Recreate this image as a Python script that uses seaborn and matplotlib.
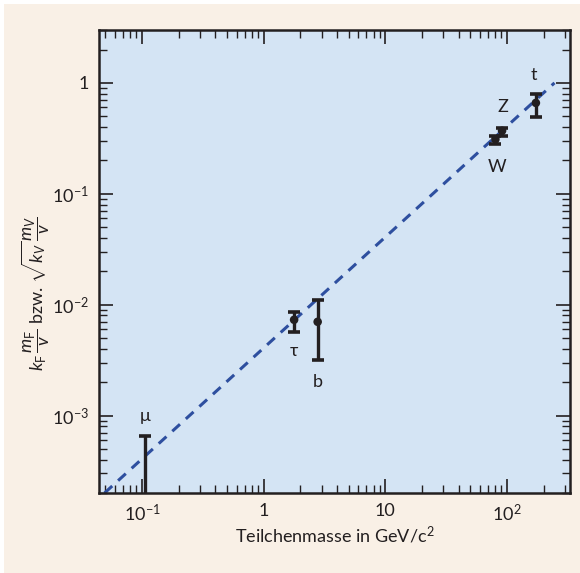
import numpy as np
import pandas as pd
import matplotlib
matplotlib.use('Agg')
import matplotlib.pyplot as plt
import matplotlib.ticker as mticker
from matplotlib.patches import Rectangle
import seaborn as sns

# Werte
particles = ['τ', 'b', 'W', 'Z', 't']
mass = [1.78, 2.78, 80.4, 91.2, 173.0]
coupling = [7.3e-3, 7.0e-3, 0.31, 0.37, 0.66]
err_hi = [8.6e-3, 1.09e-2, 0.33, 0.39, 0.80]
err_lo = [5.7e-3, 3.2e-3, 0.28, 0.33, 0.49]

mu_mass = 0.1057
mu_hi = 6.5e-4
mu_lo = 1.0e-4

line_mass = [0.0492, 246.0]
line_y = [2.0e-4, 1.0]

xticks = [0.1, 1, 10, 100]
xticklabels = ['10$^{-1}$', '1', '10', '10$^{2}$']
yticks = [1e-3, 1e-2, 1e-1, 1]
yticklabels = ['10$^{-3}$', '10$^{-2}$', '10$^{-1}$', '1']

df = pd.DataFrame({'mass': mass, 'y': coupling, 'name': particles})
df_line = pd.DataFrame({'mass': line_mass, 'y': line_y})

sns.set_style('ticks')
plt.rcParams['font.family'] = ['Lato', 'DejaVu Sans']
plt.rcParams['mathtext.fontset'] = 'custom'
plt.rcParams['mathtext.rm'] = 'Lato'
plt.rcParams['mathtext.it'] = 'Lato:italic'
plt.rcParams['mathtext.bf'] = 'Lato:bold'

ink = '#231f20'
fig = plt.figure(figsize=(5.8, 5.73), dpi=100, facecolor='white')
fig.patches.append(Rectangle((4 / 580, 0), 1, 1 - 4 / 573, transform=fig.transFigure,
                             facecolor='#f9f0e6', edgecolor='none', zorder=-10))
ax = fig.add_axes([99 / 580, 80 / 573, 471 / 580, 463 / 573])
ax.set_facecolor('#d4e4f4')

ax.set_xscale('log')
ax.set_yscale('log')

sns.lineplot(data=df_line, x='mass', y='y', ax=ax, color='#2e4f9f', lw=2.2,
             linestyle=(0, (3.4, 2.6)), zorder=2)

# Fehlerbalken
ax.errorbar(mass, coupling,
            yerr=[np.array(coupling) - np.array(err_lo), np.array(err_hi) - np.array(coupling)],
            fmt='none', ecolor=ink, elinewidth=2.4, capsize=4, capthick=2.6, zorder=3)
ax.errorbar([mu_mass], [mu_hi], yerr=[[mu_hi - mu_lo], [0]],
            fmt='none', ecolor=ink, elinewidth=2.4, capsize=4, capthick=2.6, zorder=3)
sns.scatterplot(data=df, x='mass', y='y', ax=ax, color=ink, s=38, edgecolor='none', zorder=4)

fs = 13
ax.text(mu_mass, 1.0e-3, 'μ', ha='center', va='center', fontsize=fs, color=ink)
ax.text(1.78, 3.8e-3, 'τ', ha='center', va='center', fontsize=fs, color=ink)
ax.text(2.78, 2.0e-3, 'b', ha='center', va='center', fontsize=fs, color=ink)
ax.text(83, 0.175, 'W', ha='center', va='center', fontsize=fs, color=ink)
ax.text(93, 0.6, 'Z', ha='center', va='center', fontsize=fs, color=ink)
ax.text(167, 1.18, 't', ha='center', va='center', fontsize=fs, color=ink)

ax.set_xlim(0.0443, 330)
ax.set_ylim(2.0e-4, 3.0)

ax.xaxis.set_major_locator(mticker.FixedLocator(xticks))
ax.xaxis.set_major_formatter(mticker.FixedFormatter(xticklabels))
ax.yaxis.set_major_locator(mticker.FixedLocator(yticks))
ax.yaxis.set_major_formatter(mticker.FixedFormatter(yticklabels))
ax.xaxis.set_minor_locator(mticker.LogLocator(base=10, subs=np.arange(2, 10)))
ax.yaxis.set_minor_locator(mticker.LogLocator(base=10, subs=np.arange(2, 10)))
ax.xaxis.set_minor_formatter(mticker.NullFormatter())
ax.yaxis.set_minor_formatter(mticker.NullFormatter())

ax.tick_params(which='both', direction='in', top=True, right=True, color=ink,
               labelsize=fs, labelcolor=ink, pad=7)
ax.tick_params(which='major', length=10, width=1.2)
ax.tick_params(which='minor', length=6, width=1.0)
for sp in ax.spines.values():
    sp.set_linewidth(1.8)
    sp.set_color(ink)

ax.set_xlabel('Teilchenmasse in GeV/c$^{2}$', fontsize=fs, color=ink)
ax.xaxis.set_label_coords(0.5, -0.068)
ax.set_ylabel(r'$k_\mathrm{F}\,\dfrac{m_\mathrm{F}}{v}$ bzw. $\sqrt{k_V}\,\dfrac{m_V}{v}$',
              fontsize=fs, color=ink)
ax.yaxis.set_label_coords(-0.10, 0.43)

fig.savefig('out.png', dpi=100, facecolor=fig.get_facecolor())
